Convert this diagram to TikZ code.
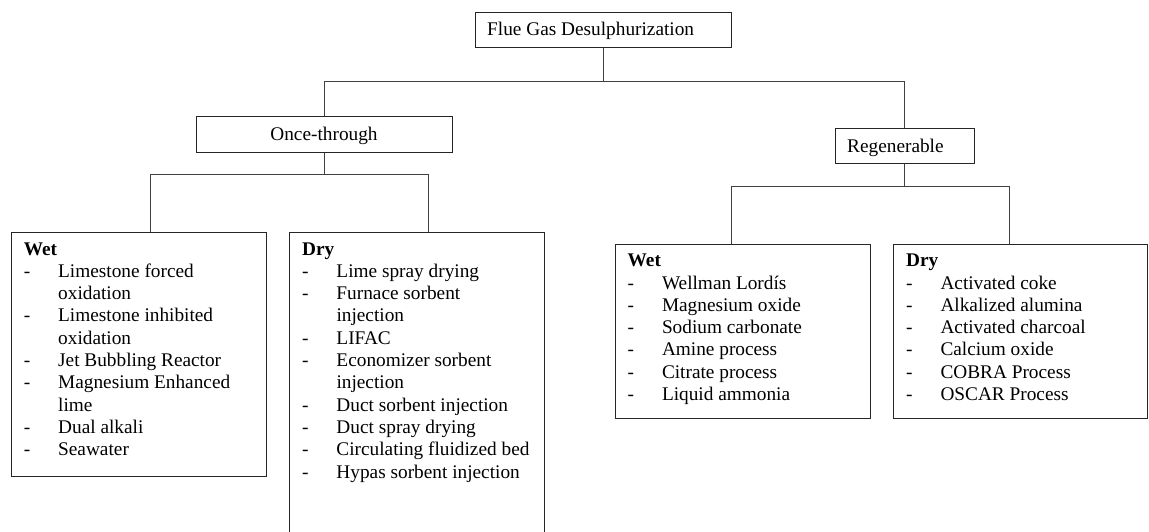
\documentclass[tikz,border=0pt]{standalone}
\usepackage{fontspec}
\setmainfont{Liberation Serif}
\usepackage{array}
\newcommand\fdsz{\fontsize{19.3}{22.3}\selectfont}
\begin{document}
\begin{tikzpicture}[x=1pt,y=-1pt,
  box/.style={draw=black!85, line width=1.3pt, inner sep=0pt, anchor=north west},
  conn/.style={draw=black!75, line width=1pt},
  lbl/.style={inner sep=0pt, anchor=base west, font=\fdsz},
  clbl/.style={inner sep=0pt, anchor=base, font=\fdsz},
]
\useasboundingbox (0,0) rectangle (1149,531);
\clip (0,0) rectangle (1149,531);
\fill[white] (0,0) rectangle (1149,531);

% boxes
\node[box, minimum width=256pt, minimum height=35pt] (fgd) at (475,12) {};
\node[box, minimum width=256pt, minimum height=36pt] (once) at (196,116) {};
\node[box, minimum width=139.5pt, minimum height=35pt] (regen) at (834.5,128) {};
\node[box, minimum width=255.5pt, minimum height=244pt] (wetA) at (10.5,232) {};
\node[box, minimum width=255pt, minimum height=330pt] (dryA) at (289,232) {};
\node[box, minimum width=255.5pt, minimum height=174pt] (wetB) at (614.5,244) {};
\node[box, minimum width=254pt, minimum height=174pt] (dryB) at (893,244) {};

% labels
\node[lbl] (fgdtxt) at (487,35) {Flue Gas Desulphurization};
\node[clbl] (oncetxt) at (324,140) {Once-through};
\node[lbl] (regentxt) at (847,152) {Regenerable};

\node[lbl] (wetAtxt) at (23.7,255) {\begin{tabular}[t]{@{}p{34.3pt}@{}l@{}}
\multicolumn{2}{@{}l@{}}{\textbf{Wet}}\\
-&Limestone forced\\
 &oxidation\\
-&Limestone inhibited\\
 &oxidation\\
-&Jet Bubbling Reactor\\
-&Magnesium Enhanced\\
 &lime\\
-&Dual alkali\\
-&Seawater
\end{tabular}};

\node[lbl] (dryAtxt) at (302,255) {\begin{tabular}[t]{@{}p{34.3pt}@{}l@{}}
\multicolumn{2}{@{}l@{}}{\textbf{Dry}}\\
-&Lime spray drying\\
-&Furnace sorbent\\
 &injection\\
-&LIFAC\\
-&Economizer sorbent\\
 &injection\\
-&Duct sorbent injection\\
-&Duct spray drying\\
-&Circulating fluidized bed\\
-&Hypas sorbent injection
\end{tabular}};

\node[lbl] (wetBtxt) at (627.5,266.7) {\begin{tabular}[t]{@{}p{34.3pt}@{}l@{}}
\multicolumn{2}{@{}l@{}}{\textbf{Wet}}\\
-&Wellman Lordís\\
-&Magnesium oxide\\
-&Sodium carbonate\\
-&Amine process\\
-&Citrate process\\
-&Liquid ammonia
\end{tabular}};

\node[lbl] (dryBtxt) at (906,266.7) {\begin{tabular}[t]{@{}p{34.3pt}@{}l@{}}
\multicolumn{2}{@{}l@{}}{\textbf{Dry}}\\
-&Activated coke\\
-&Alkalized alumina\\
-&Activated charcoal\\
-&Calcium oxide\\
-&COBRA Process\\
-&OSCAR Process
\end{tabular}};

% junctions
\coordinate (j1) at (fgd.south |- 0,81);
\coordinate (j2) at (once.south |- 0,174.5);
\coordinate (j3) at (regen.south |- 0,186);

% connectors
\draw[conn] (fgd.south) -- (j1);
\draw[conn] (j1) -| (once.north);
\draw[conn] (j1) -| (regen.north);
\draw[conn] (once.south) -- (j2);
\draw[conn] (j2) -| ([xshift=11.7pt]wetA.north);
\draw[conn] (j2) -| ([xshift=11.5pt]dryA.north);
\draw[conn] (regen.south) -- (j3);
\draw[conn] (j3) -| ([xshift=-11.2pt]wetB.north);
\draw[conn] (j3) -| ([xshift=-11pt]dryB.north);
\end{tikzpicture}
\end{document}
